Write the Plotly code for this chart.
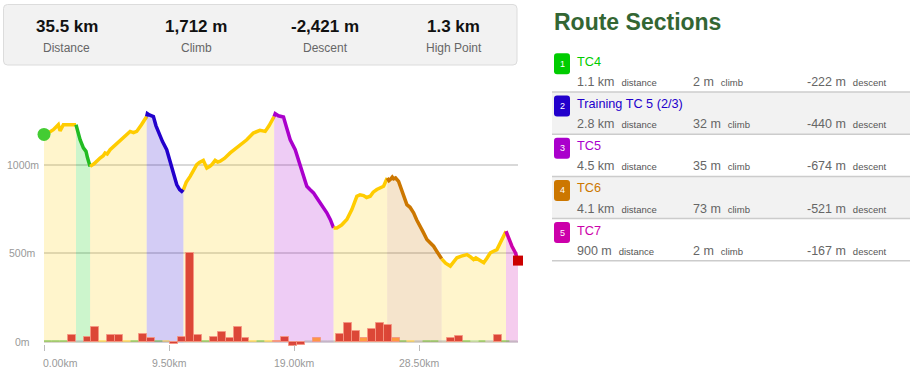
import plotly.graph_objects as go

# ---------------- data ----------------
stats_values = ["35.5 km", "1,712 m", "-2,421 m", "1.3 km"]
stats_labels = ["Distance", "Climb", "Descent", "High Point"]

section_names = ["TC4", "Training TC 5 (2/3)", "TC5", "TC6", "TC7"]
section_dist = ["1.1 km", "2.8 km", "4.5 km", "4.1 km", "900 m"]
section_climb = ["2 m", "32 m", "35 m", "73 m", "2 m"]
section_descent = ["-222 m", "-440 m", "-674 m", "-521 m", "-167 m"]
section_start_km = [2.43, 7.8, 17.48, 26.07, 35.09]
section_end_km = [3.5, 10.59, 21.99, 30.2, 36.0]

profile_km = [
    0.0, 0.35, 0.71, 0.95, 1.09, 1.22, 1.35, 1.47, 2.0, 2.43,
    2.6, 2.74, 2.99, 3.1, 3.19, 3.3, 3.5,
    3.8, 4.26, 4.5, 4.64, 4.8, 5.02, 5.4, 5.78, 6.1, 6.54, 6.8, 7.04, 7.4, 7.8,
    7.85, 8.0, 8.31, 8.5, 8.82, 9.0, 9.32, 9.5, 9.7, 9.9, 10.08, 10.3, 10.46, 10.59,
    10.8, 11.1, 11.35, 11.6, 11.8, 12.1, 12.25, 12.37, 12.6, 12.75, 13.0, 13.2, 13.38,
    13.7, 14.14, 14.4, 14.64, 15.0, 15.4, 15.9, 16.4, 16.8, 17.1, 17.48,
    17.56, 17.8, 18.19, 18.4, 18.7, 19.08, 19.3, 19.46, 19.7, 19.96, 20.2, 20.47,
    20.7, 20.98, 21.2, 21.48, 21.75, 21.99,
    22.24, 22.6, 23.0, 23.38, 23.76, 24.0, 24.27, 24.5, 24.78, 25.0, 25.28, 25.79, 26.07,
    26.2, 26.3, 26.45, 26.55, 26.7, 26.93, 27.2, 27.56, 27.8, 28.07, 28.3, 28.58, 28.8,
    29.08, 29.3, 29.59, 29.85, 30.1, 30.2,
    30.5, 30.86, 31.1, 31.36, 31.7, 32.12, 32.4, 32.63, 32.8, 33.0, 33.4, 33.65, 33.9,
    34.4, 34.8, 35.09,
    35.3, 35.54, 35.8, 36.0,
]
profile_m = [
    1170, 1180, 1197, 1215, 1225, 1190, 1215, 1225, 1225, 1225,
    1180, 1140, 1094, 1085, 1075, 1040, 990,
    1005, 1037, 1050, 1066, 1060, 1084, 1110, 1140, 1160, 1187, 1180, 1187, 1225, 1271,
    1287, 1280, 1271, 1220, 1159, 1130, 1084, 1040, 990, 940, 888, 860, 850, 860,
    900, 934, 965, 1000, 1012, 1024, 1000, 981, 990, 1000, 1024, 1015, 1019,
    1035, 1066, 1080, 1094, 1115, 1140, 1178, 1193, 1187, 1220, 1271,
    1287, 1275, 1268, 1215, 1140, 1084, 1030, 990, 930, 878, 860, 841,
    815, 785, 760, 729, 690, 644,
    644, 660, 691, 747, 822, 830, 826, 815, 822, 845, 860, 878, 925,
    910, 916, 930, 920, 925, 906, 850, 775, 760, 729, 690, 654, 620,
    579, 560, 541, 510, 476, 470,
    445, 429, 455, 476, 485, 494, 480, 466, 475, 466, 448, 475, 504,
    522, 579, 625,
    580, 541, 504, 460,
]

bar_bin_km = 0.6
bar_values = [
    10, 10, 10, 39, 10, 32, 84, 10, 39, 39,
    10, 10, 49, 26, 10, 10, -8, 28, 500, 41,
    10, 28, 60, 26, 88, 26, 10, 10, 10, 10,
    28, -19, -15, 10, 24, 10, 10, 47, 107, 64,
    24, 77, 109, 96, 24, 10, 10, 10, 10, 10,
    10, 24, 34, 10, 10, 10, 10, 43, 10, 10,
]
bar_kind = [
    "g", "g", "g", "r", "s", "r", "r", "y", "r", "r",
    "y", "g", "r", "r", "g", "y", "r", "r", "r", "r",
    "g", "r", "r", "r", "r", "r", "y", "g", "y", "o",
    "r", "r", "r", "s", "o", "s", "s", "r", "r", "r",
    "o", "r", "r", "r", "o", "g", "y", "s", "g", "g",
    "s", "r", "r", "g", "l", "g", "s", "r", "g", "s",
]

x_tick_km = [0, 9.5, 19, 28.5]
x_tick_text = ["0.00km", "9.50km", "19.00km", "28.50km"]
y_tick_m = [0, 500, 1000]
y_tick_text = ["0m", "500m", "1000m"]

# ---------------- style ----------------
W, H = 918, 377
FONT = "Liberation Sans, Arial, Helvetica, sans-serif"
YELLOW = (255, 204, 0)
SECTION_RGB = [(0, 204, 0), (34, 0, 204), (170, 0, 204), (204, 119, 0), (204, 0, 170)]
LINE_RGB = [(34, 187, 34), (34, 0, 204), (170, 0, 204), (204, 119, 0), (204, 0, 170)]
BAR_COLORS = {
    "r": "rgba(214,40,28,0.85)",
    "o": "rgba(255,140,40,0.85)",
    "y": "#ffcc33",
    "g": "#66bb33",
    "s": "#bbbbbb",
    "l": "#a8d890",
}
X_RANGE = [0, 36.0]
Y_RANGE = [-32, 1392]


def rgb(c, a=None):
    if a is None:
        return "rgb(%d,%d,%d)" % c
    return "rgba(%d,%d,%d,%s)" % (c[0], c[1], c[2], a)


def PX(x):
    return x / W


def PY(y):
    return 1 - y / H


def rounded_rect(x0, y0, x1, y1, r):
    return (
        f"M {PX(x0 + r)},{PY(y0)} L {PX(x1 - r)},{PY(y0)} Q {PX(x1)},{PY(y0)} {PX(x1)},{PY(y0 + r)} "
        f"L {PX(x1)},{PY(y1 - r)} Q {PX(x1)},{PY(y1)} {PX(x1 - r)},{PY(y1)} "
        f"L {PX(x0 + r)},{PY(y1)} Q {PX(x0)},{PY(y1)} {PX(x0)},{PY(y1 - r)} "
        f"L {PX(x0)},{PY(y0 + r)} Q {PX(x0)},{PY(y0)} {PX(x0 + r)},{PY(y0)} Z"
    )


fig = go.Figure()

# ---------------- elevation profile, split into sections ----------------
bounds = sorted(set([profile_km[0], profile_km[-1]] + section_start_km + section_end_km))
for a, b in zip(bounds[:-1], bounds[1:]):
    idx = section_start_km.index(a) if a in section_start_km else None
    xs, ys = [], []
    for k, m in zip(profile_km, profile_m):
        if a - 1e-9 <= k <= b + 1e-9:
            xs.append(k)
            ys.append(m)
    fill_c = SECTION_RGB[idx] if idx is not None else YELLOW
    line_c = LINE_RGB[idx] if idx is not None else YELLOW
    fig.add_trace(go.Scatter(
        x=xs, y=ys, mode="lines", xaxis="x", yaxis="y",
        line=dict(color=rgb(line_c), width=3.5),
        fill="tozeroy", fillcolor=rgb(fill_c, 0.2),
        hoverinfo="skip",
    ))

# ---------------- bars (overlay axes so they sit above the fills) ----------------
bar_x = [bar_bin_km * (i + 0.5) for i in range(len(bar_values))]
fig.add_trace(go.Bar(
    x=bar_x, y=bar_values, width=bar_bin_km, xaxis="x2", yaxis="y2",
    marker=dict(
        color=[BAR_COLORS[k] for k in bar_kind],
        line=dict(color=["rgba(245,150,130,0.9)" if k in "ro" else "rgba(0,0,0,0)" for k in bar_kind], width=1),
    ),
    hoverinfo="skip",
))

# start / end markers
fig.add_trace(go.Scatter(
    x=[profile_km[0]], y=[profile_m[0]], mode="markers", xaxis="x2", yaxis="y2",
    marker=dict(symbol="circle", size=13, color="#44cc33"), cliponaxis=False, hoverinfo="skip"))
fig.add_trace(go.Scatter(
    x=[profile_km[-1]], y=[profile_m[-1]], mode="markers", xaxis="x2", yaxis="y2",
    marker=dict(symbol="square", size=10, color="#cc0000"), cliponaxis=False, hoverinfo="skip"))

dom_x = [PX(44), PX(518)]
dom_y = [PY(348), PY(95)]

shapes = []
annotations = []

# ---------------- stats box ----------------
shapes.append(dict(type="path", xref="paper", yref="paper",
                   path=rounded_rect(3.5, 4.5, 517, 65, 4),
                   fillcolor="#f2f2f2", line=dict(color="#dcdcdc", width=1), layer="below"))
stat_cx = [66.5, 196, 325, 453.5]
for cx, v, lab in zip(stat_cx, stats_values, stats_labels):
    annotations.append(dict(xref="paper", yref="paper", x=PX(cx), y=PY(27), text="<b>%s</b>" % v,
                            showarrow=False, xanchor="center", yanchor="middle",
                            font=dict(family=FONT, size=17, color="#111111")))
    annotations.append(dict(xref="paper", yref="paper", x=PX(cx), y=PY(48.5), text=lab,
                            showarrow=False, xanchor="center", yanchor="middle",
                            font=dict(family=FONT, size=12, color="#666666")))

# ---------------- axis labels ----------------
for v, t in zip(y_tick_m, y_tick_text):
    annotations.append(dict(xref="paper", yref="y", x=PX(22.5), y=v, text=t, showarrow=False,
                            xanchor="center", yanchor="middle",
                            font=dict(family=FONT, size=10.5, color="#999999")))
for v, t in zip(x_tick_km, x_tick_text):
    annotations.append(dict(xref="x", yref="paper", x=v, y=PY(362.5), text=t, showarrow=False,
                            xanchor="left" if v == 0 else "center", xshift=-3 if v == 0 else 0,
                            yanchor="middle",
                            font=dict(family=FONT, size=10.5, color="#999999")))

# ---------------- route sections panel ----------------
annotations.append(dict(xref="paper", yref="paper", x=PX(552), y=PY(22), text="<b>Route Sections</b>",
                        showarrow=False, xanchor="left", yanchor="middle",
                        font=dict(family=FONT, size=23, color="#336633")))
pitch = 42.2
for i in range(len(section_names)):
    sep_y = 92 + pitch * i
    if i % 2 == 1:
        shapes.append(dict(type="rect", xref="paper", yref="paper",
                           x0=PX(552), x1=PX(910), y0=PY(sep_y - pitch), y1=PY(sep_y),
                           fillcolor="#f2f2f2", line=dict(width=0), layer="below"))
    shapes.append(dict(type="line", xref="paper", yref="paper",
                       x0=PX(552), x1=PX(910), y0=PY(sep_y), y1=PY(sep_y),
                       line=dict(color="#cccccc", width=1.5)))
    top = 53.3 + pitch * i
    col = rgb(SECTION_RGB[i])
    shapes.append(dict(type="path", xref="paper", yref="paper",
                       path=rounded_rect(554, top, 570, top + 21, 3),
                       fillcolor=col, line=dict(width=0)))
    annotations.append(dict(xref="paper", yref="paper", x=PX(562), y=PY(top + 10.5), text=str(i + 1),
                            showarrow=False, xanchor="center", yanchor="middle",
                            font=dict(family=FONT, size=9, color="white")))
    annotations.append(dict(xref="paper", yref="paper", x=PX(575), y=PY(61.7 + pitch * i),
                            text=section_names[i], showarrow=False, xanchor="left", yanchor="middle",
                            font=dict(family=FONT, size=12.7, color=col)))
    sy = PY(82 + pitch * i)
    for xpos, val, lab in [(575, section_dist[i], "distance"),
                           (690.5, section_climb[i], "climb"),
                           (804.5, section_descent[i], "descent")]:
        annotations.append(dict(
            xref="paper", yref="paper", x=PX(xpos), y=sy,
            text="%s&nbsp;&nbsp;<span style='font-size:9.5px;color:#555555'>%s</span>" % (val, lab),
            showarrow=False, xanchor="left", yanchor="middle",
            font=dict(family=FONT, size=12.5, color="#666666")))

fig.update_layout(
    width=W, height=H,
    margin=dict(l=0, r=0, t=0, b=0),
    paper_bgcolor="white", plot_bgcolor="rgba(0,0,0,0)",
    showlegend=False, bargap=0,
    font=dict(family=FONT),
    xaxis=dict(domain=dom_x, range=X_RANGE, anchor="free", position=PY(343.7),
               showgrid=False, zeroline=False, showline=False,
               tickmode="array", tickvals=x_tick_km, ticks="outside", ticklen=6,
               tickcolor="#bbbbbb", tickwidth=1, showticklabels=False, fixedrange=True),
    yaxis=dict(domain=dom_y, range=Y_RANGE, anchor="x",
               tickmode="array", tickvals=y_tick_m, showticklabels=False,
               showgrid=True, gridcolor="rgba(0,0,0,0.15)", gridwidth=2,
               zeroline=False, showline=False, ticks="", fixedrange=True),
    xaxis2=dict(overlaying="x", range=X_RANGE, anchor="y2", visible=False, fixedrange=True),
    yaxis2=dict(overlaying="y", range=Y_RANGE, anchor="x2", visible=False, fixedrange=True),
    shapes=shapes,
    annotations=annotations,
)

fig.write_html("out.html", config={"displayModeBar": False},
               post_script="document.body.style.margin='0px';document.body.style.overflow='hidden';")
